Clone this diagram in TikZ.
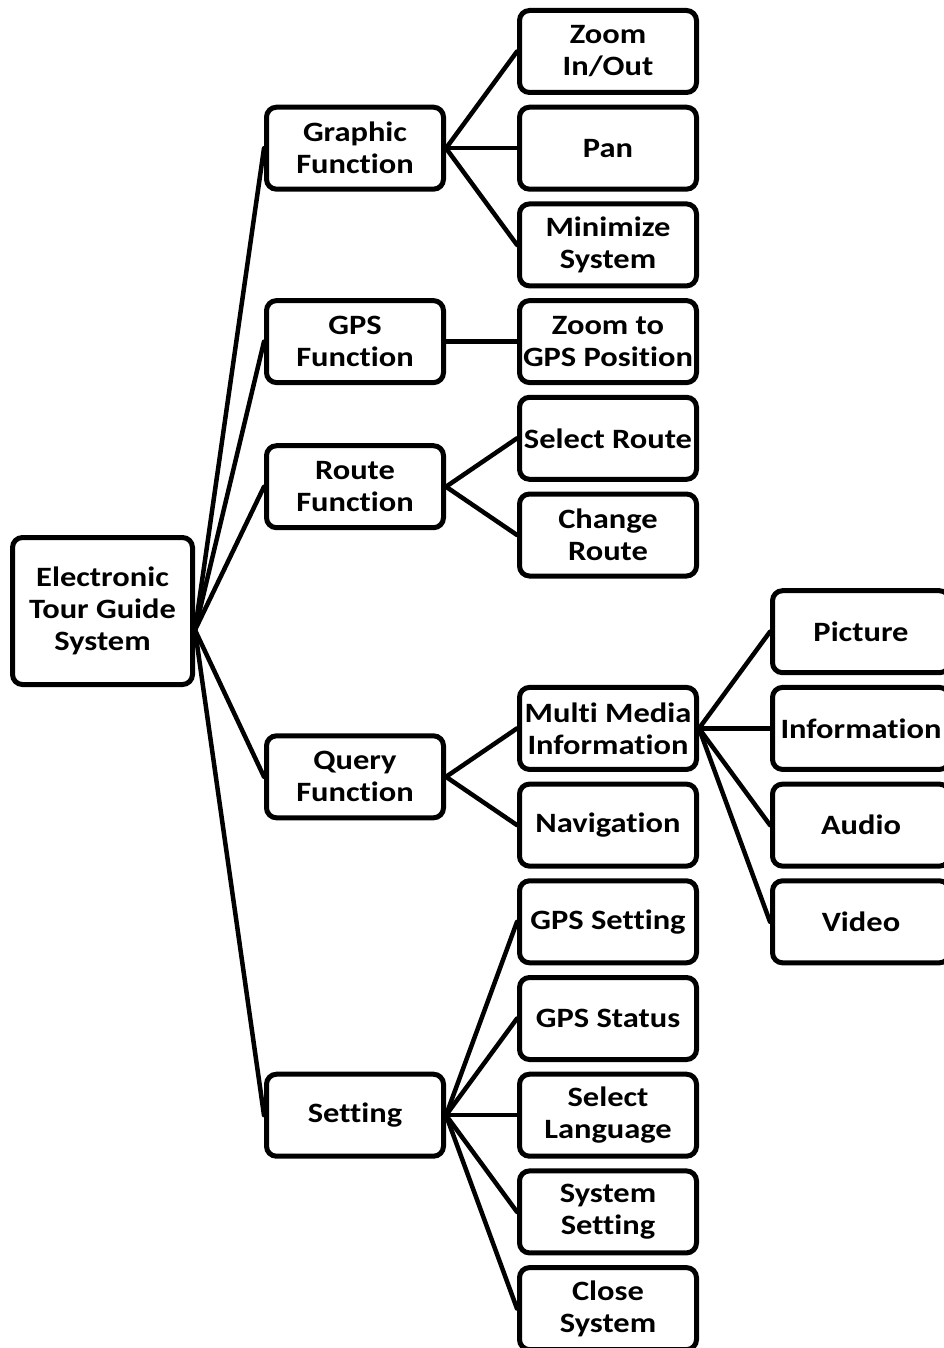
\documentclass[tikz,border=0pt]{standalone}
\usepackage{fontspec}
\setmainfont{Carlito}[FakeStretch=1.16, Ligatures={NoCommon}]
\begin{document}
\begin{tikzpicture}[x=1pt,y=-1pt,
  box/.style={draw=black, fill=white, line width=5pt, rounded corners=10pt,
    minimum width=177pt, minimum height=82pt, inner sep=0pt, align=center,
    font=\fontsize{28}{32}\selectfont\bfseries},
  link/.style={line width=4.5pt, line cap=round}]
\useasboundingbox (0,0) rectangle (943,1348);
% root
\node[box, minimum width=180pt, minimum height=147pt] (root) at (102.5,611) {Electronic\\Tour Guide\\System};
\coordinate (rootp) at ([yshift=-19pt]root.east);
% level 1
\node[box] (graphic) at (355,148.2) {Graphic\\Function};
\node[box] (gps) at (355,341.6) {GPS\\Function};
\node[box] (route) at (355,486.7) {Route\\Function};
\node[box] (query) at (355,776.8) {Query\\Function};
\node[box] (setting) at (355,1115.2) {Setting};
% level 2
\node[box] (zoom) at (608,51.5) {Zoom\\In/Out};
\node[box] (pan) at (608,148.2) {Pan};
\node[box] (mini) at (608,244.9) {Minimize\\System};
\node[box] (zgps) at (608,341.6) {Zoom to\\GPS Position};
\node[box] (selroute) at (608,438.3) {Select Route};
\node[box] (chroute) at (608,535.0) {Change\\Route};
\node[box] (mm) at (608,728.4) {Multi Media\\Information};
\node[box] (nav) at (608,825.1) {Navigation};
\node[box] (gpsset) at (608,921.8) {GPS Setting};
\node[box] (gpsstat) at (608,1018.5) {GPS Status};
\node[box] (lang) at (608,1115.2) {Select\\Language};
\node[box] (sysset) at (608,1211.9) {System\\Setting};
\node[box] (close) at (608,1308.6) {Close\\System};
% level 3
\node[box] (pic) at (861,631.7) {Picture};
\node[box] (info) at (861,728.4) {Information};
\node[box] (audio) at (861,825.1) {Audio};
\node[box] (video) at (861,921.8) {Video};
% connectors
\foreach \c in {graphic,gps,route,query,setting}
  \draw[link] (rootp) -- (\c.west);
\foreach \c in {zoom,pan,mini}
  \draw[link] (graphic.east) -- (\c.west);
\draw[link] (gps.east) -- (zgps.west);
\foreach \c in {selroute,chroute}
  \draw[link] (route.east) -- (\c.west);
\foreach \c in {mm,nav}
  \draw[link] (query.east) -- (\c.west);
\foreach \c in {gpsset,gpsstat,lang,sysset,close}
  \draw[link] (setting.east) -- (\c.west);
\foreach \c in {pic,info,audio,video}
  \draw[link] (mm.east) -- (\c.west);
\end{tikzpicture}
\end{document}
